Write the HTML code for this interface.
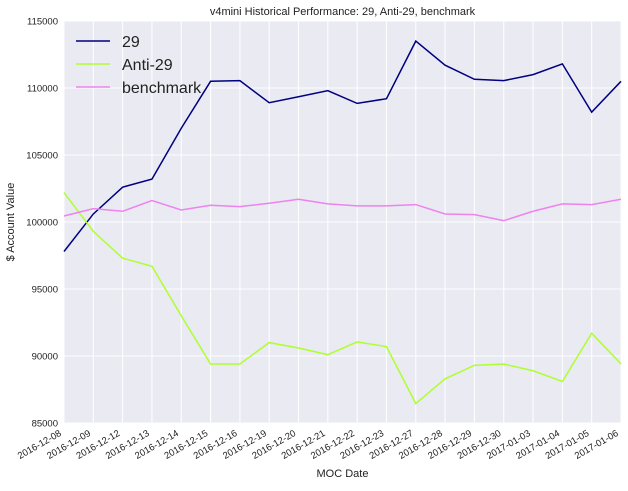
<!DOCTYPE html>
<html><head><meta charset="utf-8"><style>
body{margin:0;background:#fff;font-family:"Liberation Sans",sans-serif;}
svg text{font-family:"Liberation Sans",sans-serif;}
</style></head><body>
<svg id="chart" width="628" height="486"></svg>
<script>
const dates=["2016-12-08","2016-12-09","2016-12-12","2016-12-13","2016-12-14","2016-12-15","2016-12-16","2016-12-19","2016-12-20","2016-12-21","2016-12-22","2016-12-23","2016-12-27","2016-12-28","2016-12-29","2016-12-30","2017-01-03","2017-01-04","2017-01-05","2017-01-06"];
const s29=[97800,100600,102600,103200,107000,110500,110550,108900,109350,109800,108850,109200,113500,111700,110650,110550,111000,111800,108200,110500];
const anti29=[102200,99300,97300,96700,93000,89400,89400,91000,90600,90100,91050,90700,86450,88300,89300,89400,88900,88100,91700,89400];
const bench=[100450,101000,100800,101600,100900,101250,101150,101400,101700,101350,101200,101200,101300,100600,100550,100100,100800,101350,101300,101700];
const yTicks=[85000,90000,95000,100000,105000,110000,115000];
const seriesNames=["29","Anti-29","benchmark"];
const colors=["#000080","#adff2f","#ee82ee"];
const L=64,R=621,T=21,B=423;
const xs=i=>L+(R-L)*i/(dates.length-1);
const ys=v=>B-(v-85000)/30000*(B-T);
const svg=document.getElementById('chart');
const NS="http://www.w3.org/2000/svg";
function mk(t,a,txt){const e=document.createElementNS(NS,t);for(const k in a)e.setAttribute(k,a[k]);if(txt!==undefined)e.textContent=txt;svg.appendChild(e);return e;}
let e=mk('rect',{x:L,y:T,width:R-L,height:B-T,fill:'#eaeaf2'});


yTicks.forEach(v=>{
 let g=mk('line',{x1:L,x2:R,y1:ys(v),y2:ys(v),stroke:'#fff','stroke-width':1});
 
 
 let t=mk('text',{x:L-6,y:ys(v)+3.5,'text-anchor':'end','font-size':9.5,fill:'#222'},String(v));
 
 
});
dates.forEach((d,i)=>{
 let g=mk('line',{x1:xs(i),x2:xs(i),y1:T,y2:B,stroke:'#fff','stroke-width':1});
 
 
 let t=mk('text',{x:xs(i)-2,y:B+12,'text-anchor':'end','font-size':9.5,fill:'#222',transform:`rotate(-30 ${xs(i)-2} ${B+12})`},d);
 
 
});
[s29,anti29,bench].forEach((s,k)=>{
 let p=mk('polyline',{points:s.map((v,i)=>xs(i)+','+ys(v)).join(' '),fill:'none',stroke:colors[k],'stroke-width':1.5});
 
 
});
seriesNames.forEach((n,k)=>{
 let y=41+k*23;
 let l=mk('line',{x1:76,x2:110,y1:y,y2:y,stroke:colors[k],'stroke-width':1.5});
 
 
 let t=mk('text',{x:122,y:y+6,'font-size':16,fill:'#222'},n);
 
 
});
let tt=mk('text',{x:(L+R)/2,y:15,'text-anchor':'middle','font-size':11,fill:'#222'},'v4mini Historical Performance: 29, Anti-29, benchmark');


let xt=mk('text',{x:(L+R)/2,y:477,'text-anchor':'middle','font-size':11,fill:'#222'},'MOC Date');


let yt=mk('text',{x:14,y:(T+B)/2,'text-anchor':'middle','font-size':11,fill:'#222',transform:`rotate(-90 14 ${(T+B)/2})`},'$ Account Value');


</script>
</body></html>
